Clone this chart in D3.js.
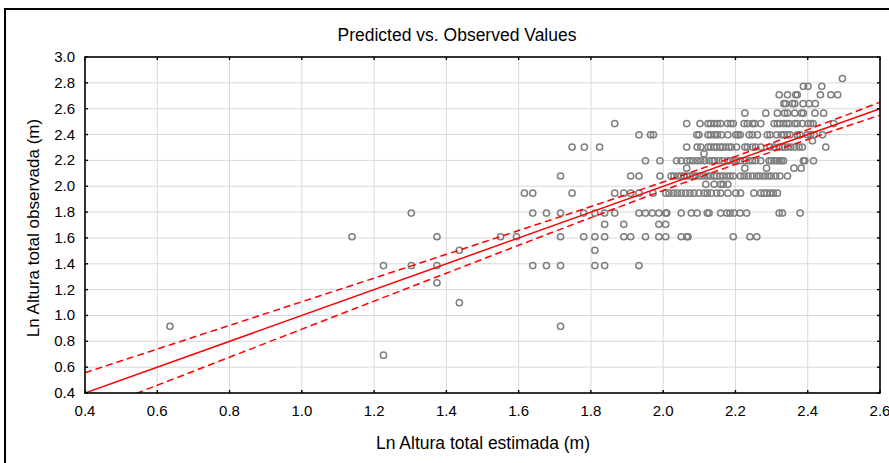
<!DOCTYPE html>
<html><head><meta charset="utf-8">
<script src="https://cdn.jsdelivr.net/npm/d3@7"></script>
<style>body{margin:0;background:#fff}svg{display:block;font-family:"Liberation Sans",Arial,sans-serif}</style>
</head><body><svg id="c" width="889" height="463"></svg>
<script>
// ---- data ----
const chartTitle = "Predicted vs. Observed Values";
const xTitle = "Ln Altura total estimada (m)";
const yTitle = "Ln Altura total observada (m)";
const xTicks = [0.4,0.6,0.8,1.0,1.2,1.4,1.6,1.8,2.0,2.2,2.4,2.6];
const yTicks = [0.4,0.6,0.8,1.0,1.2,1.4,1.6,1.8,2.0,2.2,2.4,2.6,2.8,3.0];
// observed levels and predicted values of the points on each level
const observedLevels = [2.833,2.773,2.708,2.639,2.565,2.485,2.398,2.351,2.303,2.251,2.197,2.140,2.079,2.015,1.946,1.792,1.705,1.609,1.504,1.386,1.253,1.099,0.916,0.693];
const predictedByLevel = [
 [2.496],
 [2.388,2.401,2.439],
 [2.321,2.344,2.367,2.371,2.435,2.464,2.483],
 [2.334,2.339,2.358,2.364,2.387,2.404,2.421],
 [2.226,2.284,2.316,2.336,2.344,2.364,2.383,2.388,2.420,2.444],
 [1.866,2.065,2.102,2.124,2.131,2.141,2.150,2.159,2.178,2.187,2.194,2.224,2.233,2.247,2.253,2.270,2.307,2.316,2.323,2.333,2.342,2.349,2.364,2.371,2.385,2.401,2.408,2.415,2.472],
 [1.933,1.965,1.973,2.093,2.099,2.124,2.131,2.142,2.150,2.161,2.179,2.201,2.207,2.213,2.238,2.247,2.261,2.288,2.296,2.314,2.327,2.334,2.344,2.351,2.371,2.379,2.399,2.408,2.418,2.441],
 [2.413],
 [1.748,1.782,1.824,2.065,2.094,2.104,2.124,2.131,2.141,2.148,2.157,2.164,2.173,2.182,2.189,2.203,2.226,2.233,2.247,2.256,2.270,2.296,2.307,2.321,2.330,2.336,2.344,2.353,2.364,2.376,2.385,2.450],
 [2.113],
 [1.951,1.991,2.037,2.050,2.065,2.074,2.083,2.094,2.104,2.115,2.127,2.136,2.142,2.154,2.164,2.179,2.185,2.194,2.203,2.214,2.226,2.238,2.247,2.256,2.270,2.293,2.299,2.307,2.314,2.321,2.327,2.333,2.388,2.392,2.416],
 [2.065,2.226,2.286,2.362,2.382],
 [1.716,1.910,1.933,1.991,2.022,2.030,2.041,2.050,2.058,2.065,2.074,2.083,2.090,2.102,2.111,2.122,2.131,2.141,2.148,2.157,2.166,2.176,2.185,2.194,2.214,2.224,2.235,2.247,2.259,2.268,2.279,2.290,2.299,2.311,2.323,2.344],
 [2.118,2.141,2.159,2.166,2.179],
 [1.616,1.639,1.748,1.866,1.891,1.910,1.933,1.972,2.007,2.016,2.028,2.039,2.050,2.062,2.074,2.085,2.099,2.113,2.122,2.133,2.148,2.159,2.179,2.201,2.214,2.251,2.270,2.279,2.286,2.296,2.305,2.316],
 [1.303,1.639,1.677,1.716,1.780,1.811,1.838,1.866,1.933,1.951,1.970,1.988,2.007,2.010,2.050,2.078,2.094,2.122,2.127,2.159,2.176,2.185,2.196,2.213,2.231,2.321,2.330,2.379],
 [1.838,1.891,1.988,2.007],
 [1.139,1.374,1.550,1.594,1.716,1.780,1.811,1.838,1.891,1.910,1.951,1.988,2.007,2.050,2.065,2.069,2.194,2.240,2.259],
 [1.436,1.811],
 [1.226,1.303,1.374,1.639,1.677,1.716,1.811,1.838,1.933],
 [1.374],
 [1.436],
 [0.635,1.716],
 [1.226]
];
// fitted line and 95% confidence band (half-width read at x ticks)
const fitX = [0.4, 2.6];
const fitY = [0.4, 2.6];
const bandX  = [0.4,0.6,0.8,1.0,1.2,1.4,1.6,1.8,2.0,2.2,2.4,2.6];
const bandHW = [0.157,0.140,0.123,0.106,0.089,0.073,0.057,0.043,0.033,0.031,0.038,0.050];

// ---- drawing ----
const svg = d3.select("#c");
const L=85, R=880, T=57, B=393;
const x = d3.scaleLinear().domain([0.4,2.6]).range([L,R]);
const y = d3.scaleLinear().domain([0.4,3.0]).range([B,T]);
const font = 'Liberation Sans, Arial, sans-serif';

// outer frame
svg.append("rect").attr("x",5).attr("y",9).attr("width",910).attr("height",480)
  .attr("fill","none").attr("stroke","#000").attr("stroke-width",2);

// title
svg.append("text").attr("x",457).attr("y",41).attr("text-anchor","middle")
  .attr("font-size",17.5).attr("fill","#000").text(chartTitle);

// grid
const g = svg.append("g");
g.selectAll(".gx").data(xTicks.slice(1,-1)).join("line")
  .attr("x1",d=>x(d)).attr("x2",d=>x(d)).attr("y1",T).attr("y2",B)
  .attr("stroke","#d9d9d9").attr("stroke-width",1);
g.selectAll(".gy").data(yTicks.slice(1,-1)).join("line")
  .attr("y1",d=>y(d)).attr("y2",d=>y(d)).attr("x1",L).attr("x2",R)
  .attr("stroke","#d9d9d9").attr("stroke-width",1);

// clip
svg.append("clipPath").attr("id","clip").append("rect").attr("x",L).attr("y",T).attr("width",R-L).attr("height",B-T);
const plot = svg.append("g").attr("clip-path","url(#clip)");

// points
const pts = [];
observedLevels.forEach((o,i)=>predictedByLevel[i].forEach(p=>pts.push([p,o])));
plot.selectAll("circle").data(pts).join("circle")
  .attr("cx",d=>x(d[0])).attr("cy",d=>y(d[1])).attr("r",3.1)
  .attr("fill","none").attr("stroke","#7f7f7f").attr("stroke-width",1.5);

// fit and band
const line = d3.line().x(d=>x(d[0])).y(d=>y(d[1]));
plot.append("path").attr("d",line(fitX.map((v,i)=>[v,fitY[i]])))
  .attr("fill","none").attr("stroke","#ff0000").attr("stroke-width",1.5);
const lineC = d3.line().x(d=>x(d[0])).y(d=>y(d[1])).curve(d3.curveMonotoneX);
[1,-1].forEach(s=>{
  plot.append("path").attr("d",lineC(bandX.map((v,i)=>[v, v + s*bandHW[i]])))
    .attr("fill","none").attr("stroke","#ff0000").attr("stroke-width",1.5)
    .attr("stroke-dasharray","7,4");
});

// axes frame
const ax = svg.append("g").attr("font-family",font);
ax.append("rect").attr("x",L).attr("y",T).attr("width",R-L).attr("height",B-T)
  .attr("fill","none").attr("stroke","#000").attr("stroke-width",1.6);
const tk=3;
xTicks.forEach(v=>{
  ax.append("line").attr("x1",x(v)).attr("x2",x(v)).attr("y1",B).attr("y2",B-tk).attr("stroke","#000").attr("stroke-width",1.4);
  ax.append("line").attr("x1",x(v)).attr("x2",x(v)).attr("y1",T).attr("y2",T+tk).attr("stroke","#000").attr("stroke-width",1.4);
  ax.append("text").attr("x",x(v)).attr("y",416).attr("text-anchor","middle").attr("font-size",15).text(v.toFixed(1));
});
yTicks.forEach(v=>{
  ax.append("line").attr("y1",y(v)).attr("y2",y(v)).attr("x1",L).attr("x2",L+tk).attr("stroke","#000").attr("stroke-width",1.4);
  ax.append("line").attr("y1",y(v)).attr("y2",y(v)).attr("x1",R).attr("x2",R-tk).attr("stroke","#000").attr("stroke-width",1.4);
  ax.append("text").attr("x",75).attr("y",y(v)+5).attr("text-anchor","end").attr("font-size",15).text(v.toFixed(1));
});
ax.append("text").attr("x",483).attr("y",449).attr("text-anchor","middle").attr("font-size",17.5).text(xTitle);
ax.append("text").attr("transform","translate(39,228) rotate(-90)").attr("text-anchor","middle").attr("font-size",17).text(yTitle);
</script></body></html>
